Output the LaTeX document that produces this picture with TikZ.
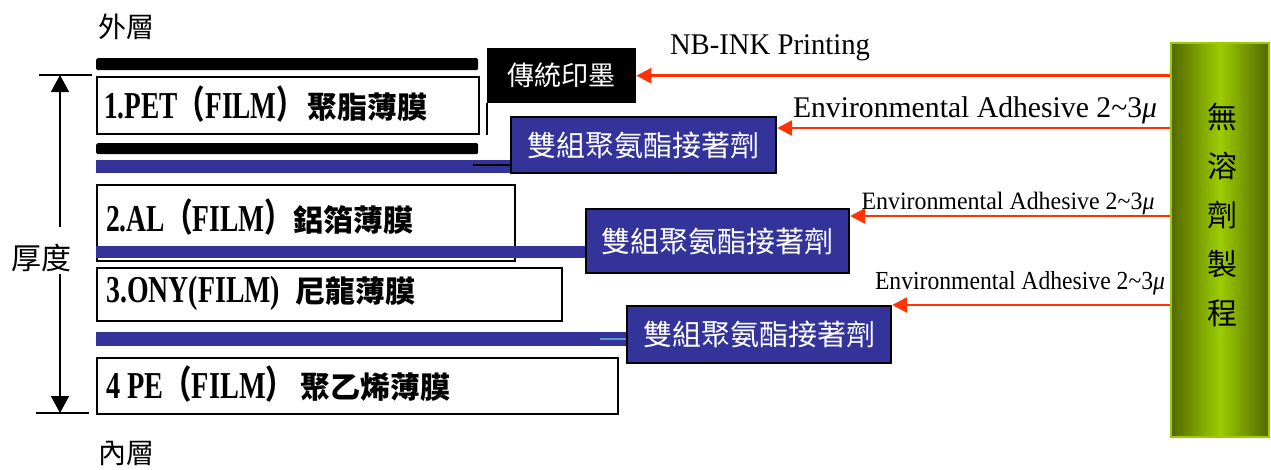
\documentclass[tikz,border=0pt]{standalone}
\usepackage{fontspec}
\usepackage{graphicx}
\setmainfont{Liberation Serif}
\newfontfamily\zh{Noto Sans CJK TC}
\newfontfamily\en{Liberation Serif}
\usetikzlibrary{arrows.meta}
\newcommand\fitx[2]{\resizebox{#1}{\height}{#2}}
\newcommand\sz[1]{\fontsize{#1}{#1}\selectfont}
\definecolor{pblue}{RGB}{51,51,153}
\definecolor{pred}{RGB}{255,51,0}
\definecolor{gdark}{RGB}{82,104,0}
\definecolor{gbright}{RGB}{156,204,0}
\definecolor{lblue}{RGB}{90,150,210}
\begin{document}
\begin{tikzpicture}[x=1pt,y=-1pt,
  layerbox/.style={draw=black,line width=1.8pt,fill=white,inner sep=0pt,anchor=north west},
  blackbar/.style={fill=black,inner sep=0pt,anchor=north west,rounded corners=1.5pt},
  bluebar/.style={fill=pblue,inner sep=0pt,anchor=north west},
  bluebox/.style={draw=black,line width=2.2pt,fill=pblue,text=white,inner sep=0pt,anchor=north west,font=\zh\sz{29}},
  inkbox/.style={fill=black,text=white,inner sep=0pt,anchor=north west,font=\zh\sz{27}},
  lab/.style={anchor=west,inner sep=0pt},
  elab/.style={inner sep=0pt},
  redarrow/.style={draw=pred,line width=2.6pt,-{Triangle[length=15pt,width=15pt]}},
  thick/.style={line width=1.6pt,-{Triangle[length=17pt,width=18pt]}},
  cjklab/.style={font=\zh\sz{28},inner sep=0pt}]
\useasboundingbox (0,0) rectangle (1271,469);

% outer / inner labels
\node[cjklab] (outer) at (126,27) {外層};
\node[cjklab] (inner) at (126,453) {內層};

% layer 1
\node[blackbar,minimum width=382pt,minimum height=12pt] (K1) at (96,58) {};
\node[layerbox,minimum width=382pt,minimum height=57pt] (L1) at (96,76) {};
\node[lab] (T1) at (104,104) {\fitx{200pt}{\sz{38}\en\bfseries 1.PET{\zh （}FILM{\zh ）}}\hspace{3pt}{\sz{30}\zh\bfseries 聚脂薄膜}};
\node[blackbar,minimum width=382pt,minimum height=11pt] (K2) at (96,143) {};
\node[bluebar,minimum width=416pt,minimum height=13pt] (U1) at (96,160) {};

% ink box
\node[inkbox,minimum width=149pt,minimum height=55pt] (INK) at (487,48) {傳統印墨};
\draw[line width=1.2pt] (INK.south west) -- (L1.south east -| INK.south west);

% adhesive box 1
\node[bluebox,minimum width=265pt,minimum height=56pt] (B1) at (510,116) {雙組聚氨酯接著劑};
\draw[line width=1.2pt] (473,165) -- (B1.west |- 0,165);

% layer 2
\node[layerbox,minimum width=418pt,minimum height=76pt] (L2) at (96,184) {};
\node[lab] (T2) at (106,217) {\fitx{186pt}{\sz{38}\en\bfseries 2.AL{\zh （}FILM{\zh ）}}\hspace{1pt}{\sz{30}\zh\bfseries 鋁箔薄膜}};
\node[bluebar,minimum width=490pt,minimum height=12pt] (U2) at (96,246) {};
\node[bluebox,minimum width=263pt,minimum height=64pt] (B2) at (585,208) {雙組聚氨酯接著劑};

% layer 3
\node[layerbox,minimum width=465pt,minimum height=53pt] (L3) at (96,267) {};
\node[lab] (T3) at (106,293) {\fitx{174pt}{\sz{38}\en\bfseries 3.ONY(FILM)}\hspace{15pt}{\sz{30}\zh\bfseries 尼龍薄膜}};
\node[bluebar,minimum width=532pt,minimum height=14pt] (U3) at (96,332) {};
\node[bluebox,minimum width=264pt,minimum height=57pt] (B3) at (626,305) {雙組聚氨酯接著劑};
\draw[lblue,line width=1.2pt] (600,339) -- (B3.west |- 0,339);

% layer 4
\node[layerbox,minimum width=521pt,minimum height=56pt] (L4) at (96,357) {};
\node[lab] (T4) at (106,384) {\fitx{188pt}{\sz{38}\en\bfseries 4 PE{\zh （}FILM{\zh ）}}\hspace{6pt}{\sz{30}\zh\bfseries 聚乙烯薄膜}};

% thickness arrow
\coordinate (ttop) at (60,75);
\coordinate (tbot) at (60,413);
\coordinate (tm1) at (60,227);
\coordinate (tm2) at (60,274);
\draw[line width=1.2pt] (39,75) -- (92,75);
\draw[line width=1.6pt] (36,413) -- (89,413);
\node[font=\zh\sz{30},inner sep=0pt] (TH) at (41,258) {厚度};
\draw[thick] (tm1) -- (ttop);
\draw[thick] (tm2) -- (tbot);

% green process bar
\node[draw=gbright,line width=1.6pt,left color=gdark,right color=gdark,middle color=gbright,
      minimum width=98pt,minimum height=394pt,anchor=north west,inner sep=0pt] (G) at (1170,42) {};
\node[font=\zh\fontsize{30}{49}\selectfont,align=center,inner sep=0pt] (V) at (1222,215) {無\\溶\\劑\\製\\程};

% red arrows
\draw[redarrow] (G.west |- INK.east) -- (INK.east);
\draw[redarrow] (G.west |- 0,128) -- (B1.east |- 0,128);
\draw[redarrow] (G.west |- 0,216) -- (B2.east |- 0,216);
\draw[redarrow] (G.west |- B3.north east) -- (B3.north east);

% arrow labels
\node[elab] (A1) at (770,48) {\fitx{200pt}{\sz{30}NB-INK Printing}};
\node[elab] (A2) at (975,110) {\fitx{364pt}{\sz{30}Environmental Adhesive 2\textasciitilde 3\textit{μ}}};
\node[elab] (A3) at (1008,203) {\fitx{293pt}{\sz{25}Environmental Adhesive 2\textasciitilde 3\textit{μ}}};
\node[elab] (A4) at (1020,283) {\fitx{290pt}{\sz{26}Environmental Adhesive 2\textasciitilde 3\textit{μ}}};
\end{tikzpicture}
\end{document}
